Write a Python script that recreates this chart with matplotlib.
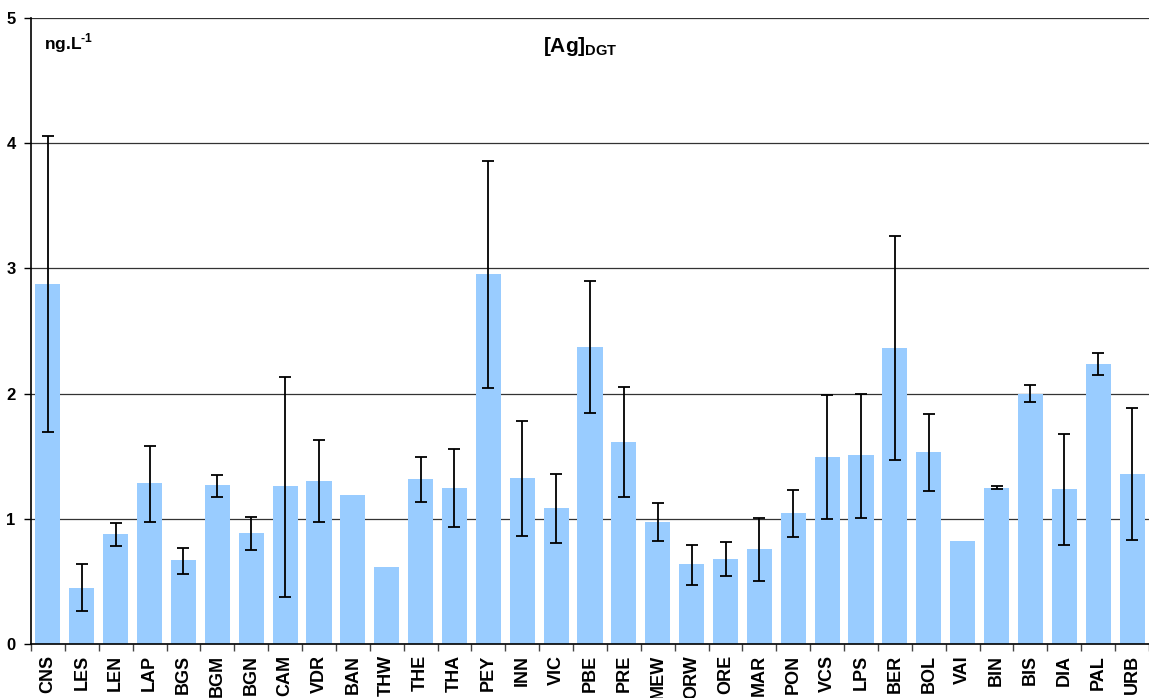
import numpy as np
import matplotlib.pyplot as plt

# Sites and DGT-labile Ag concentrations (ng/L)
sites = ['CNS', 'LES', 'LEN', 'LAP', 'BGS', 'BGM', 'BGN', 'CAM', 'VDR', 'BAN', 'THW',
         'THE', 'THA', 'PEY', 'INN', 'VIC', 'PBE', 'PRE', 'MEW', 'ORW', 'ORE', 'MAR',
         'PON', 'VCS', 'LPS', 'BER', 'BOL', 'VAI', 'BIN', 'BIS', 'DIA', 'PAL', 'URB']
mean = [2.875, 0.447, 0.88, 1.286, 0.671, 1.27, 0.887, 1.262, 1.30, 1.19, 0.615,
        1.318, 1.246, 2.955, 1.326, 1.086, 2.372, 1.613, 0.974, 0.639, 0.679, 0.759,
        1.046, 1.494, 1.51, 2.364, 1.533, 0.823, 1.246, 1.997, 1.238, 2.236, 1.358]
err_high = [4.06, 0.64, 0.97, 1.58, 0.77, 1.35, 1.014, 2.13, 1.63, np.nan, np.nan,
            1.49, 1.557, 3.86, 1.784, 1.355, 2.90, 2.05, 1.129, 0.793, 0.815, 1.009,
            1.233, 1.986, 2.0, 3.262, 1.837, np.nan, 1.26, 2.069, 1.677, 2.327, 1.885]
err_low = [1.69, 0.26, 0.78, 0.974, 0.56, 1.174, 0.75, 0.375, 0.974, np.nan, np.nan,
           1.137, 0.932, 2.045, 0.863, 0.81, 1.842, 1.177, 0.82, 0.474, 0.543, 0.506,
           0.852, 0.998, 1.006, 1.47, 1.222, np.nan, 1.235, 1.933, 0.79, 2.146, 0.83]

mean = np.array(mean)
hi = np.array(err_high)
lo = np.array(err_low)
has_err = ~np.isnan(hi)
x = np.arange(len(sites))

plt.rcParams['font.family'] = ['Liberation Sans', 'DejaVu Sans']
plt.rcParams['mathtext.fontset'] = 'custom'
plt.rcParams['mathtext.rm'] = 'Liberation Sans:bold'
plt.rcParams['mathtext.bf'] = 'Liberation Sans:bold'

fig = plt.figure(figsize=(11.49, 6.98), dpi=100)
ax = fig.add_axes([31 / 1149, 1 - 644 / 698, 1 - 31 / 1149, (644 - 18) / 698])

ax.bar(x, mean, width=0.74, color='#99CCFF', zorder=2)
ax.errorbar(x[has_err], mean[has_err],
            yerr=[mean[has_err] - lo[has_err], hi[has_err] - mean[has_err]],
            fmt='none', ecolor='black', elinewidth=1.3, capsize=4, capthick=1.3, zorder=3)

ax.set_xlim(-0.5, len(sites) - 0.5)
ax.set_ylim(0, 5)
ax.set_yticks([0, 1, 2, 3, 4, 5])
ax.yaxis.grid(True, color='#333333', linewidth=0.9, zorder=1)
ax.set_axisbelow(True)

for s in ['top', 'right']:
    ax.spines[s].set_visible(False)
ax.spines['left'].set_linewidth(1.2)
ax.spines['bottom'].set_linewidth(1.2)

ax.set_xticks(x)
ax.set_xticklabels(sites, rotation=90, fontsize=13, fontweight='bold')
ax.set_xticks(np.arange(len(sites) + 1) - 0.5, minor=True)
ax.tick_params(axis='x', which='major', length=0, pad=8)
ax.tick_params(axis='x', which='minor', length=5, width=1, color='#444444')
ax.tick_params(axis='y', length=5, width=1, labelsize=12, pad=6)
for lab in ax.get_yticklabels():
    lab.set_fontweight('bold')

ax.text(0.012, 0.96, 'ng.L$^{\\text{-1}}$', transform=ax.transAxes, fontsize=12.5,
        fontweight='bold', va='center')
ax.text(0.458, 0.955, '[Ag]$_{\\mathbf{DGT}}$', transform=ax.transAxes, fontsize=15,
        fontweight='bold', ha='left', va='center')

fig.savefig('out.png', dpi=100)
